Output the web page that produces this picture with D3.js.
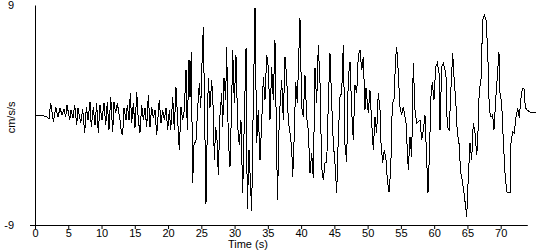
<!DOCTYPE html>
<html>
<head>
<meta charset="utf-8">
<script src="https://cdn.jsdelivr.net/npm/d3@7"></script>
<style>
  body { margin: 0; background: #fff; }
  svg text { font-family: "Liberation Sans", Arial, sans-serif; font-size: 11px; fill: #000; }
</style>
</head>
<body>
<svg id="chart" width="550" height="250"></svg>
<script>
// time (s) of each traced turning point of the record
const timeS = [
  0, 0.75, 1.35, 1.80, 2.10, 2.36, 2.78, 3.11, 3.46, 3.76, 4.06, 4.36, 4.61, 4.81, 5.22, 5.41, 5.71, 5.97,
  6.27, 6.46, 6.87, 7.17, 7.47, 7.71, 7.97, 8.27, 8.46, 8.76, 9.02, 9.27, 9.51, 9.77, 10.07, 10.37, 10.63,
  10.87, 11.12, 11.38, 11.68, 11.87, 12.13, 12.37, 12.78, 12.97, 13.18,
  13.38, 13.68, 13.87, 14.13, 14.32, 14.54, 14.78, 15.03, 15.29, 15.53, 15.78, 16.04, 16.28, 16.53, 16.79,
  17.03, 17.29, 17.54, 17.78, 18.04, 18.29, 18.68, 18.94, 19.19, 19.44, 19.69, 19.95, 20.19, 20.40, 20.70,
  20.94, 21.19, 21.45, 21.69, 21.95, 22.20, 22.44, 22.70, 22.89, 23.15, 23.30, 23.49, 23.70, 23.90, 24.20,
  24.46, 24.70, 24.91, 25.06, 25.30,
  25.70, 25.90, 26.05, 26.30, 26.56, 26.80, 26.95, 27.16, 27.40, 27.55, 27.81, 28.06, 28.21, 28.41, 28.66,
  28.81, 29.06, 29.31, 29.57, 29.72, 29.96, 30.21, 30.47, 30.71, 30.96, 31.22, 31.46, 31.72, 31.91, 32.17,
  32.57, 32.77, 33.07, 33.32, 33.56, 33.82, 34.08, 34.32, 34.57, 34.83, 35.07, 35.32, 35.58, 35.82, 36.07,
  36.45, 36.72, 37.08, 37.32, 37.58, 37.83, 38.07, 38.33, 38.58, 38.74, 38.93, 39.19, 39.43, 39.58, 39.83,
  40.09, 40.33, 40.58, 40.84, 41.08, 41.34, 41.59, 41.83, 42.09, 42.34, 42.58, 42.84, 43.09, 43.33, 43.59,
  43.85, 44.09, 44.34, 44.60, 44.84, 45.09, 45.35, 45.59, 45.84, 46.10, 46.34, 46.60, 46.85, 47.09, 47.35,
  47.60, 47.84, 48.10, 48.36, 48.60, 48.85, 49.11, 49.35, 49.60, 49.75, 50.10, 50.35, 50.61, 50.85, 51.11,
  51.36, 51.60, 51.86, 52.01, 52.26, 52.50, 52.76, 52.96, 53.21, 53.47, 53.71, 53.96, 54.22, 54.37, 54.61,
  54.86, 55.12, 55.36, 55.77, 56.11, 56.37, 56.62, 56.86, 57.12, 57.37, 57.87, 58.12, 58.37, 58.62, 58.88,
  59.07, 59.27, 59.52, 59.72, 59.97, 60.23, 60.47, 60.73, 60.88, 61.13, 61.37, 61.63, 61.78, 61.97, 62.27,
  62.53, 62.79, 62.98, 63.24, 63.48, 63.73, 63.99, 64.23, 64.48, 64.74, 64.89, 65.13, 65.39, 65.64, 65.88,
  66.14, 66.39, 66.54, 66.78, 67.04, 67.29, 67.54, 67.79, 68.05, 68.29, 68.54, 68.80, 68.99, 69.25, 69.49,
  69.74, 69.89, 70.15, 70.39, 70.65, 70.90, 71.40, 71.55, 71.80, 72.04, 72.30, 72.56, 72.80, 73.01, 73.25,
  73.50, 73.70, 73.91, 74.40, 75.31
];

// acceleration (cm/s/s) at those points
const accel = [
  0, 0, -0.08, -0.16, -0.33, 0.98, -0.57, 0.65, -0.16, 0.57, 0, 0.49, -0.16, 0.82, -0.41, 0.41, -0.25, 0.82,
  -0.82, 0.57, -0.65, 0.49, -1.47, 0.65, -0.41, 1.06, -0.98, 0.65, -0.82, 0.98, -1.47, 0.82, -0.41, 0.98, -0.82,
  1.06, -1.23, 1.47, -1.39, 1.06, 0.16, 0.98, -0.41, -1.39, -1.64,
  0.57, -0.41, 0.82, -0.41, 1.80, -0.65, 0.98, -1.06, 1.88, -0.41, -1.47, 0.82, -0.41, 0.57, -0.98,
  1.64, -0.98, 0.65, -0.25, 0.41, -1.64, 1.23, -0.65, 0.41, -0.41, 0.57, -1.23, 0.41, -1.23, 1.47,
  -1.23, 2.29, -0.41, -2.86, 0.65, -0.41, 0.41, 3.68, -1.23, 4.50, 1.47, 5.15, -5.56, -2.45, -2.05,
  0.65, 2.62, 0.57, 3.52, 7.20,
  -7.28, -1.06, 3.03, 0.57, 2.86, 0.41, -3.68, -0.98, -2.29, -4.91, 0, 1.80, -0.98, 3.03, 1.23,
  5.56, -2.05, -4.25, 1.23, 5.32, 0.98, 4.91, -0.98, -2.45, -0.41, -6.38, -0.57, 5.48, -7.69, -2.86,
  -7.85, -0.41, 8.75, -2.29, 0.41, -3.68, -0.65, 3.11, 1.23, 4.91, 3.93, -0.41, 3.93, 1.23, 6.14,
  -6.95, -0.16, 2.86, -0.41, 4.75, 3.11, -0.41, -1.47, -2.62, -5.07, -2.29, 2.70, 0.98, 3.68, 7.94,
  0.65, -0.16, 3.27, -0.16, -1.23, -4.75, -3.11, -5.15, 3.85, 0.98, 5.73, 2.62, -4.25, -5.32, -3.93,
  -3.85, 0.98, 5.07, 0.98, -2.29, -3.93, -6.38, -1.80, 1.47, 1.80, 5.73, -2.45, -3.85, 3.11, 4.34,
  0.41, -2.05, 2.45, 1.80, 4.91, 5.32, 3.68, 4.75, 0.41, 2.21, 0.16, 2.05, -0.65, -2.86, -0.16,
  -1.47, 1.80, 0.41, -2.29, -3.93, -2.86, -3.68, -5.32, -6.30, -4.50, 0.98, 1.23, 4.75, 5.56, 3.44,
  0.65, 0, 0.65, -0.65, -4.50, -1.80, -3.44, 4.25, 0.41, -0.65, -0.41, -2.05, -1.23, 0, -3.68,
  -6.38, -3.44, 1.47, 2.70, 1.23, 3.93, 4.25, 3.44, -1.23, 3.93, 4.25, 3.68, 3.11, -0.98, -1.23,
  2.29, 5.07, 3.11, 1.23, -1.47, -2.29, -4.75, -5.32, -6.38, -7.53, -8.35, -5.07, -2.29, -3.68, -0.65,
  -1.47, -3.27, -2.29, 2.05, 2.86, 7.77, 8.18, 7.77, 5.32, 0.41, -0.16, 0, -1.23, 1.23, 3.11,
  5.15, 1.80, 0.98, -2.05, -4.75, -6.30, -6.38, -2.29, -1.39, -1.47, -0.16, 0.57, -0.25, 1.23, 2.13,
  2.13, 0.65, 0.41, 0.25, 0.16
];

const xTicks = [0, 5, 10, 15, 20, 25, 30, 35, 40, 45, 50, 55, 60, 65, 70];
const yLabels = [9, -9];
const xTitle = "Time (s)";
const yTitle = "cm/s/s";

const svg = d3.select("#chart");

const x = d3.scaleLinear().domain([0, 74]).range([35, 527.3]);
const y = d3.scaleLinear().domain([-9, 9]).range([225, 5]);

const points = timeS.map((t, i) => ({ t: t, v: accel[i] }));

// x axis, ticks hang below the line
svg.append("g")
    .attr("transform", "translate(0," + y(-9) + ")")
    .call(d3.axisBottom(x).tickValues(xTicks).tickSize(4).tickSizeOuter(0).tickPadding(0));

// y axis: plain line plus a short tick at the bottom
svg.append("g")
    .attr("transform", "translate(" + x(0) + ",0)")
    .call(d3.axisLeft(y).tickValues([-9]).tickSize(5).tickSizeOuter(0).tickFormat(""));

svg.selectAll(".domain, .tick line").attr("stroke", "#000");
svg.selectAll(".tick text")
    .style("font-family", "'Liberation Sans', Arial, sans-serif")
    .style("font-size", "11px")
    .attr("fill", "#000");

svg.selectAll(".ylab")
    .data(yLabels)
    .enter()
    .append("text")
    .attr("class", "ylab")
    .attr("x", 14)
    .attr("y", d => y(d))
    .attr("dy", "0.35em")
    .attr("text-anchor", "end")
    .text(d => d);

svg.append("text")
    .attr("transform", "translate(15," + y(-0.2) + ") rotate(-90)")
    .attr("text-anchor", "middle")
    .text(yTitle);

svg.append("text")
    .attr("x", x(32))
    .attr("y", 247.5)
    .attr("text-anchor", "middle")
    .text(xTitle);

// the record itself
const line = d3.line()
    .x(d => x(d.t))
    .y(d => y(d.v));

svg.append("path")
    .datum(points)
    .attr("d", line)
    .attr("fill", "none")
    .attr("stroke", "#000")
    .attr("stroke-width", 1)
    .attr("shape-rendering", "crispEdges");
</script>
</body>
</html>
